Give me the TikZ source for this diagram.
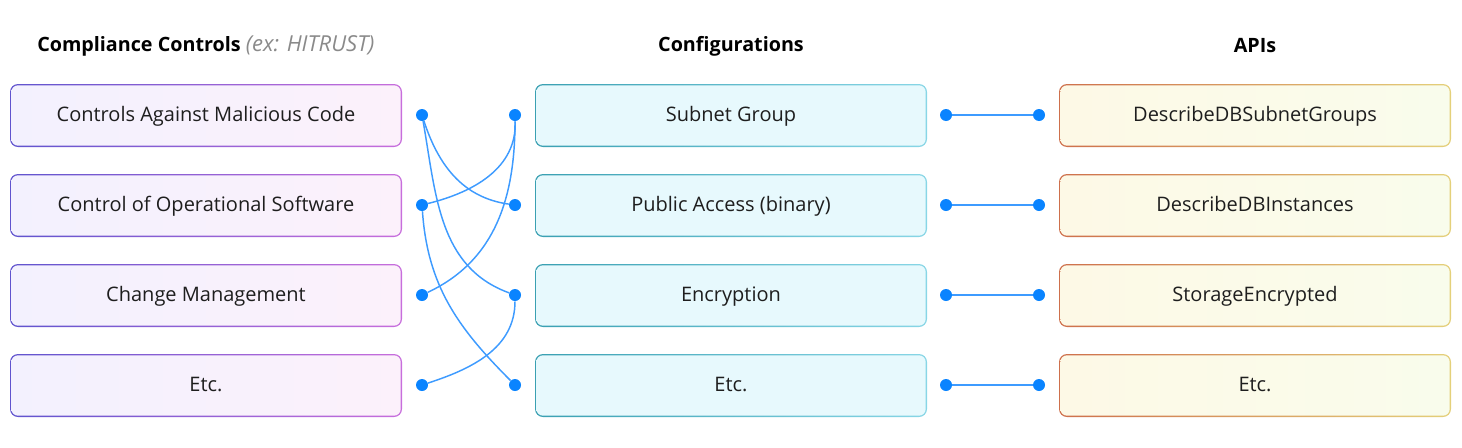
\documentclass[tikz,border=0pt]{standalone}
\usepackage{fontspec}
\setmainfont{Open Sans}
\usetikzlibrary{positioning}
\definecolor{dotblue}{RGB}{10,132,255}
\definecolor{linkblue}{RGB}{62,155,255}
\definecolor{textdark}{RGB}{30,30,30}
\definecolor{hintgray}{RGB}{138,138,138}
\definecolor{ctrlA}{RGB}{96,84,206}
\definecolor{ctrlB}{RGB}{200,110,220}
\definecolor{ctrlfillA}{RGB}{243,241,254}
\definecolor{ctrlfillB}{RGB}{252,241,251}
\definecolor{confA}{RGB}{58,160,178}
\definecolor{confB}{RGB}{136,214,230}
\definecolor{conffill}{RGB}{231,249,253}
\definecolor{apiA}{RGB}{206,112,76}
\definecolor{apiB}{RGB}{228,208,122}
\definecolor{apifillA}{RGB}{253,249,230}
\definecolor{apifillB}{RGB}{249,252,236}

\tikzset{
    gbox/.style n args={4}{rectangle, rounded corners=6pt, minimum width=294pt, minimum height=47.25pt,
        text height=12.6pt, text depth=3pt,
        left color=#1, right color=#2, text=textdark, font=\fontsize{15}{18}\selectfont,
        path picture={\shade[left color=#3, right color=#4, rounded corners=5pt]
            ([shift={(1pt,1pt)}]path picture bounding box.south west) rectangle
            ([shift={(-1pt,-1pt)}]path picture bounding box.north east);}},
    ctrlbox/.style={gbox={ctrlA}{ctrlB}{ctrlfillA}{ctrlfillB}},
    confbox/.style={gbox={confA}{confB}{conffill}{conffill}},
    apibox/.style={gbox={apiA}{apiB}{apifillA}{apifillB}},
    head/.style={text=black, font=\fontsize{14.8}{18}\selectfont\bfseries},
    dot/.style={circle, fill=dotblue, inner sep=0pt, minimum size=9pt},
    link/.style={linkblue, line width=1.1pt},
}

\begin{document}
\begin{tikzpicture}[x=0.75pt, y=-0.75pt]
    \useasboundingbox (0,0) rectangle (1462,447);

    % column headings
    \node[head, anchor=west, inner sep=0pt] (hctrl) at (37,46)
        {Compliance Controls \textcolor{hintgray}{\fontsize{16.5}{18}\selectfont\normalfont\itshape (ex: HITRUST)}};
    \node[head] (hconf) at (731,46) {Configurations};
    \node[head] (hapi) at (1255,46) {APIs};

    % compliance controls
    \node[ctrlbox] (c1) at (206,115.5) {Controls Against Malicious Code};
    \node[ctrlbox] (c2) at (206,205.5) {Control of Operational Software};
    \node[ctrlbox] (c3) at (206,295.5) {Change Management};
    \node[ctrlbox] (c4) at (206,385.5) {Etc.};

    % configurations
    \node[confbox] (f1) at (731,115.5) {Subnet Group};
    \node[confbox] (f2) at (731,205.5) {Public Access (binary)};
    \node[confbox] (f3) at (731,295.5) {Encryption};
    \node[confbox] (f4) at (731,385.5) {Etc.};

    % apis
    \node[apibox] (a1) at (1255,115.5) {DescribeDBSubnetGroups};
    \node[apibox] (a2) at (1255,205.5) {DescribeDBInstances};
    \node[apibox] (a3) at (1255,295.5) {StorageEncrypted};
    \node[apibox] (a4) at (1255,385.5) {Etc.};

    % dots
    \node[dot] (cd1) at (422,115) {};
    \node[dot] (cd2) at (422,205) {};
    \node[dot] (cd3) at (422,295) {};
    \node[dot] (cd4) at (422,385) {};
    \node[dot] (fl1) at (515,115) {};
    \node[dot] (fl2) at (515,205) {};
    \node[dot] (fl3) at (515,295) {};
    \node[dot] (fl4) at (515,385) {};
    \node[dot] (fr1) at (946,115) {};
    \node[dot] (fr2) at (946,205) {};
    \node[dot] (fr3) at (946,295) {};
    \node[dot] (fr4) at (946,385) {};
    \node[dot] (ad1) at (1039,115) {};
    \node[dot] (ad2) at (1039,205) {};
    \node[dot] (ad3) at (1039,295) {};
    \node[dot] (ad4) at (1039,385) {};

    % control -> configuration
    \draw[link] (cd1) to[out=-72, in=172] (fl2);
    \draw[link] (cd1) to[out=-80, in=160] (fl3);
    \draw[link] (cd2) to[out=14, in=-88] (fl1);
    \draw[link] (cd2) to[out=-86, in=135] (fl4);
    \draw[link] (cd3) to[out=25, in=-90] (fl1);
    \draw[link] (cd4) to[out=18, in=-90] (fl3);

    % configuration -> api
    \draw[link] (fr1) -- (ad1);
    \draw[link] (fr2) -- (ad2);
    \draw[link] (fr3) -- (ad3);
    \draw[link] (fr4) -- (ad4);
\end{tikzpicture}
\end{document}
